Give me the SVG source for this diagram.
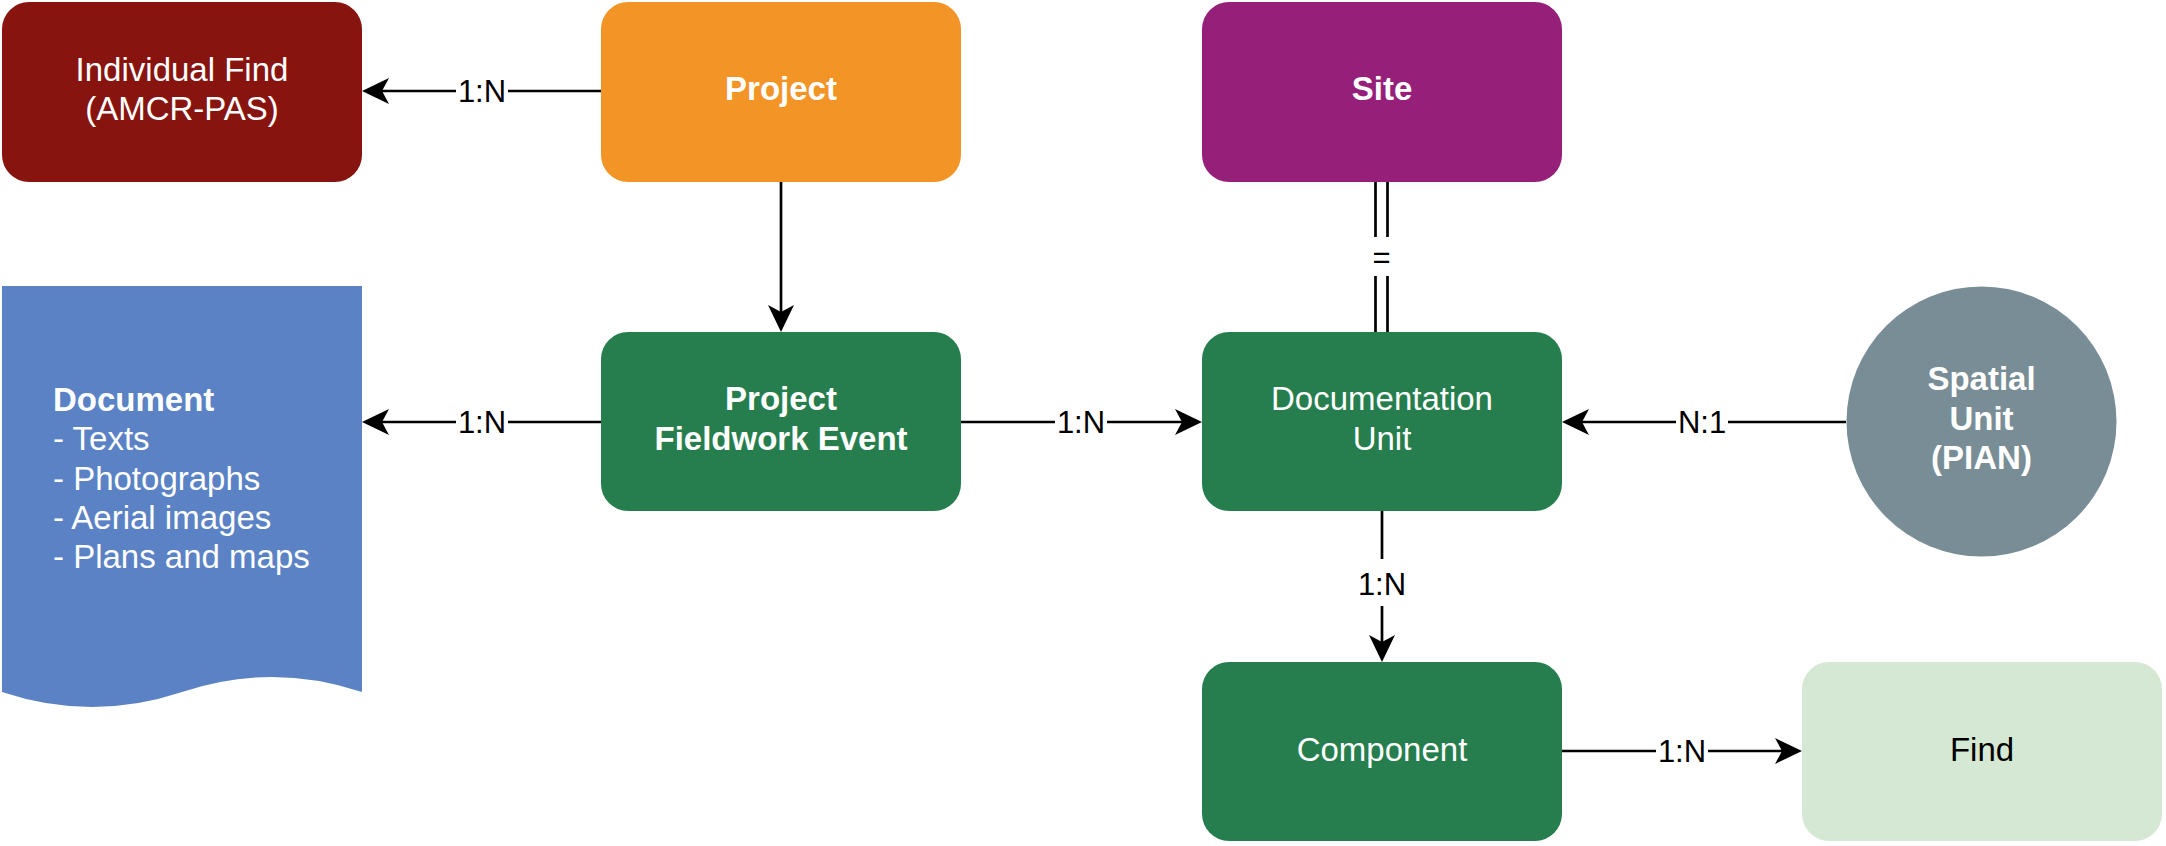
<svg xmlns="http://www.w3.org/2000/svg" width="2166" height="846" viewBox="0 0 2166 846">
  <style>
    .t { font-family: "Liberation Sans", Arial, Helvetica, sans-serif; font-size: 33px; fill: #ffffff; text-anchor: middle; }
    .b { font-weight: bold; }
    .l { text-anchor: start; }
    .dark { fill: #000000; }
    .lbl { font-family: "Liberation Sans", Arial, Helvetica, sans-serif; font-size: 31px; fill: #000000; text-anchor: middle; }
    .edge { stroke: #000000; stroke-width: 2.7; fill: none; }
    .arrow { marker-end: url(#arr); }
    .bg { fill: #ffffff; }
  </style>
  <defs>
    <marker id="arr" markerUnits="userSpaceOnUse" viewBox="-8 -14 29 28" markerWidth="29" markerHeight="28" refX="0" refY="0" orient="auto" overflow="visible">
      <path d="M20,0 L-7,-13 L0,0 L-7,13 Z" fill="#000000"/>
    </marker>
  </defs>
  <rect width="2166" height="846" fill="#ffffff"/>

  <g id="connectors">
    <path class="edge arrow" d="M601,91 H382"/>
    <path class="edge arrow" d="M781,182 V312"/>
    <path class="edge arrow" d="M601,422 H382"/>
    <path class="edge arrow" d="M961,422 H1182"/>
    <path class="edge arrow" d="M1846,422 H1582"/>
    <path class="edge" d="M1375.5,182 V332 M1387.5,182 V332"/>
    <path class="edge arrow" d="M1382,511 V642"/>
    <path class="edge arrow" d="M1562,751 H1782"/>

    <rect class="bg" x="456" y="73" width="52" height="38"/>
    <text class="lbl" x="482" y="102">1:N</text>
    <rect class="bg" x="456" y="403" width="52" height="38"/>
    <text class="lbl" x="482" y="433">1:N</text>
    <rect class="bg" x="1055" y="403" width="52" height="38"/>
    <text class="lbl" x="1081" y="433">1:N</text>
    <rect class="bg" x="1676" y="403" width="52" height="38"/>
    <text class="lbl" x="1702" y="433">N:1</text>
    <rect class="bg" x="1368" y="237" width="28" height="39"/>
    <text class="lbl" x="1381.5" y="268">=</text>
    <rect class="bg" x="1356" y="559" width="52" height="47"/>
    <text class="lbl" x="1382" y="595">1:N</text>
    <rect class="bg" x="1656" y="732" width="52" height="38"/>
    <text class="lbl" x="1682" y="762">1:N</text>
  </g>

  <g id="individual-find">
    <rect x="2" y="2" width="360" height="180" rx="27" ry="27" fill="#87140F"/>
    <text class="t" x="182" y="81">Individual Find</text>
    <text class="t" x="182" y="120">(AMCR-PAS)</text>
  </g>

  <g id="project">
    <rect x="601" y="2" width="360" height="180" rx="27" ry="27" fill="#F39427"/>
    <text class="t b" x="781" y="100">Project</text>
  </g>

  <g id="site">
    <rect x="1202" y="2" width="360" height="180" rx="27" ry="27" fill="#961F79"/>
    <text class="t b" x="1382" y="100">Site</text>
  </g>

  <g id="document">
    <path d="M2,286 H362 V692 Q272,662 182,692 Q92,722 2,692 Z" fill="#5A82C4"/>
    <text class="t b l" x="53" y="411">Document</text>
    <text class="t l" x="53" y="450">- Texts</text>
    <text class="t l" x="53" y="490">- Photographs</text>
    <text class="t l" x="53" y="529">- Aerial images</text>
    <text class="t l" x="53" y="568">- Plans and maps</text>
  </g>

  <g id="project-fieldwork-event">
    <rect x="601" y="332" width="360" height="179" rx="27" ry="27" fill="#267E4E"/>
    <text class="t b" x="781" y="410">Project</text>
    <text class="t b" x="781" y="450">Fieldwork Event</text>
  </g>

  <g id="documentation-unit">
    <rect x="1202" y="332" width="360" height="179" rx="27" ry="27" fill="#267E4E"/>
    <text class="t" x="1382" y="410">Documentation</text>
    <text class="t" x="1382" y="450">Unit</text>
  </g>

  <g id="spatial-unit">
    <circle cx="1981.5" cy="421.5" r="135" fill="#788D96"/>
    <text class="t b" x="1981.5" y="390">Spatial</text>
    <text class="t b" x="1981.5" y="430">Unit</text>
    <text class="t b" x="1981.5" y="469">(PIAN)</text>
  </g>

  <g id="component">
    <rect x="1202" y="662" width="360" height="179" rx="27" ry="27" fill="#267E4E"/>
    <text class="t" x="1382" y="761">Component</text>
  </g>

  <g id="find">
    <rect x="1802" y="662" width="360" height="179" rx="27" ry="27" fill="#D5E8D4"/>
    <text class="t dark" x="1982" y="761">Find</text>
  </g>
</svg>
